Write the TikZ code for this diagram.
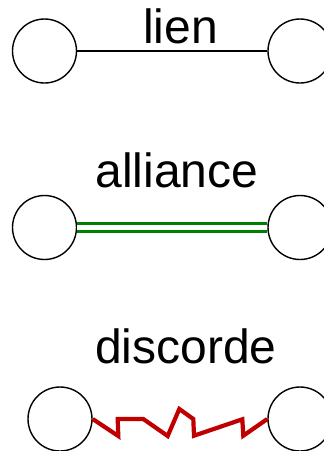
\documentclass[tikz,border=0pt]{standalone}
\usepackage{fontspec}
\setmainfont{Liberation Sans}
\begin{document}
\begin{tikzpicture}[x=1pt,y=-1pt,
  actor/.style={circle,draw=black,line width=1.4pt,minimum size=64pt,inner sep=0pt,fill=white},
  lbl/.style={anchor=base,inner sep=0pt,font=\fontsize{48}{52}\selectfont},
  plain/.style={draw=black,line width=1.4pt},
  ally/.style={draw=allygreen,line width=3.3pt,double=white,double distance=4.4pt},
  feud/.style={draw=feudred,line width=4.2pt,line join=miter}]
\definecolor{allygreen}{HTML}{008000}
\definecolor{feudred}{HTML}{C00000}
\useasboundingbox (0,0) rectangle (324,451);
% lien
\node[actor] (a1) at (44.5,51) {};
\node[actor] (a2) at (300,51) {};
\draw[plain] (a1) -- (a2);
\node[lbl] (t1) at (180.5,43) {lien};
% alliance
\node[lbl] (t2) at (177,187) {alliance};
\node[actor] (b1) at (44.5,227.5) {};
\node[actor] (b2) at (300,227.5) {};
\draw[ally] (b1.east) -- (b2.west);
% discorde
\node[lbl] (t3) at (186,363) {discorde};
\node[actor] (c1) at (60,419) {};
\node[actor] (c2) at (300,419) {};
\draw[feud] (c1.east) -- (118.3,436) -- (117.7,419) -- (143.3,419) -- (167.7,436)
  -- (179.3,409) -- (193.3,419) -- (194,435.7) -- (242.3,419.3) -- (243.3,435.7) -- (c2.west);
\end{tikzpicture}
\end{document}
